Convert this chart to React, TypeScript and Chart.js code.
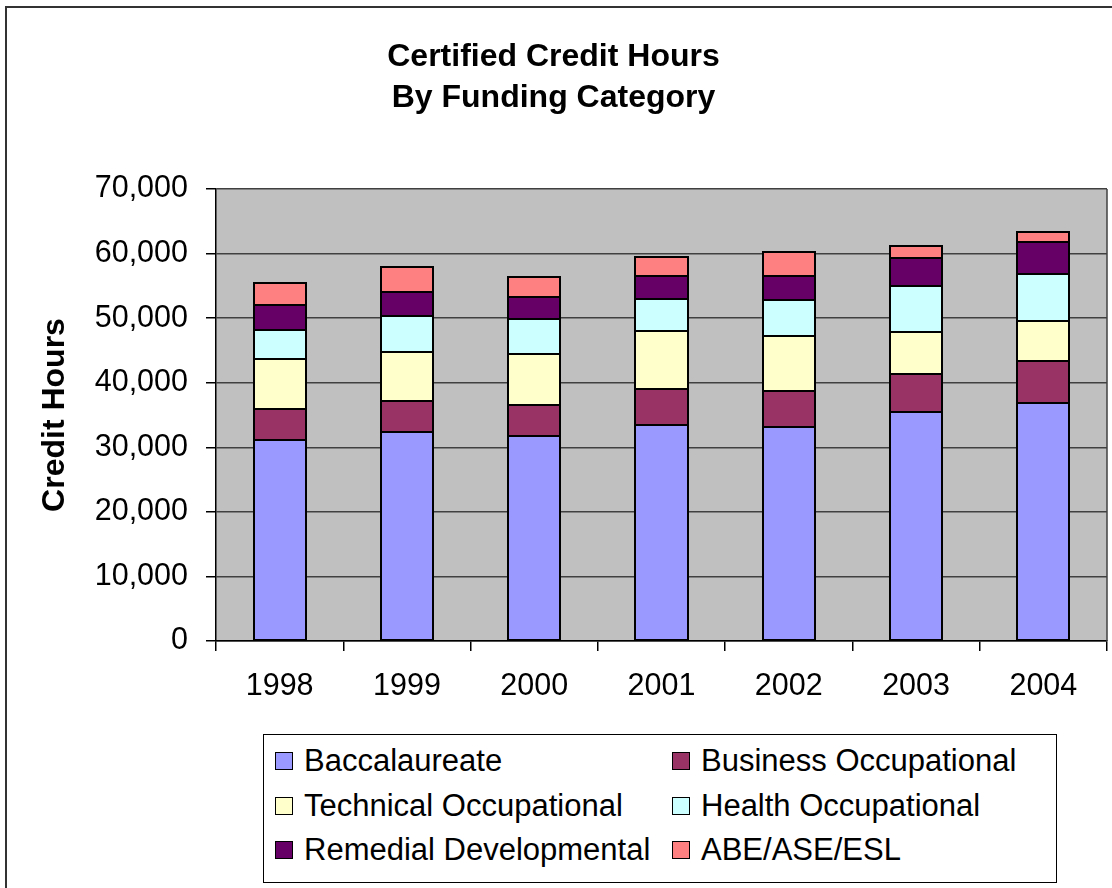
import React, { useEffect, useRef } from "react";
import { Chart, registerables } from "chart.js";

Chart.register(...registerables);

const years = ["1998", "1999", "2000", "2001", "2002", "2003", "2004"];
const baccalaureate = [31200, 32400, 31800, 33400, 33100, 35500, 36800];
const businessOccupational = [4700, 4700, 4700, 5600, 5600, 5900, 6500];
const technicalOccupational = [7700, 7700, 8000, 9000, 8600, 6500, 6200];
const healthOccupational = [4600, 5600, 5300, 4900, 5500, 7100, 7400];
const remedialDevelopmental = [3800, 3700, 3400, 3700, 3800, 4300, 4900];
const abeAseEsl = [3400, 3800, 3100, 2800, 3700, 1900, 1500];

const seriesNames = [
  "Baccalaureate",
  "Business Occupational",
  "Technical Occupational",
  "Health Occupational",
  "Remedial Developmental",
  "ABE/ASE/ESL",
];
const seriesValues = [
  baccalaureate,
  businessOccupational,
  technicalOccupational,
  healthOccupational,
  remedialDevelopmental,
  abeAseEsl,
];
const seriesColors = ["#9999FF", "#993366", "#FFFFCC", "#CCFFFF", "#660066", "#FF8080"];
const yTickValues = [0, 10000, 20000, 30000, 40000, 50000, 60000, 70000];
const titleLines = ["Certified Credit Hours", "By Funding Category"];
const yAxisTitle = "Credit Hours";

const FONT = '"Liberation Sans", Arial, Helvetica, sans-serif';

const plotBackground = {
  id: "plotBackground",
  beforeDraw(chart: any) {
    const { ctx, chartArea } = chart;
    if (!chartArea) return;
    ctx.save();
    ctx.fillStyle = "#C0C0C0";
    ctx.fillRect(chartArea.left, chartArea.top, chartArea.right - chartArea.left, chartArea.bottom - chartArea.top);
    ctx.restore();
  },
  beforeDatasetsDraw(chart: any) {
    const { ctx, chartArea } = chart;
    ctx.save();
    ctx.strokeStyle = "#404040";
    ctx.lineWidth = 1.5;
    ctx.beginPath();
    ctx.moveTo(chartArea.right, chartArea.top);
    ctx.lineTo(chartArea.right, chartArea.bottom);
    ctx.stroke();
    ctx.restore();
  },
  afterDatasetsDraw(chart: any) {
    const { ctx } = chart;
    ctx.save();
    ctx.strokeStyle = "#000000";
    ctx.lineWidth = 2;
    chart.data.datasets.forEach((_: any, di: number) => {
      const meta = chart.getDatasetMeta(di);
      meta.data.forEach((bar: any) => {
        const { x, y, base, width } = bar.getProps(["x", "y", "base", "width"], true);
        const left = Math.round(x - width / 2);
        const right = Math.round(x + width / 2);
        const top = Math.round(Math.min(y, base));
        const bottom = Math.round(Math.max(y, base));
        ctx.strokeRect(left, top, right - left, bottom - top);
      });
    });
    ctx.restore();
  },
};

const legendCols = [
  { swatch: 275 },
  { swatch: 672 },
];
const legendRows = [761, 806, 850];

export default function App() {
  const canvasRef = useRef<HTMLCanvasElement | null>(null);

  useEffect(() => {
    if (!canvasRef.current) return;
    Chart.defaults.font.family = FONT;
    const chart = new Chart(canvasRef.current, {
      type: "bar",
      data: {
        labels: years,
        datasets: seriesNames.map((name, i) => ({
          label: name,
          data: seriesValues[i],
          backgroundColor: seriesColors[i],
          borderColor: "#000000",
          borderWidth: 0,
          borderSkipped: false,
          barPercentage: 0.41,
          categoryPercentage: 1,
        })),
      },
      options: {
        responsive: false,
        animation: false,
        devicePixelRatio: 1,
        layout: { padding: { top: 0, left: 0, right: 5, bottom: 157 } },
        plugins: {
          legend: { display: false },
          tooltip: { enabled: false },
          title: {
            display: true,
            text: titleLines,
            color: "#000000",
            font: { family: FONT, size: 32, weight: "bold", lineHeight: 1.28125 },
            padding: { top: 36.5, bottom: 70.5 },
          },
        },
        scales: {
          x: {
            stacked: true,
            grid: {
              offset: true,
              drawOnChartArea: false,
              tickLength: 10,
              color: "#000000",
              lineWidth: 1.5,
            },
            border: { color: "#000000", width: 1.5 },
            ticks: {
              color: "#000000",
              font: { family: FONT, size: 30.5 },
              padding: 17,
              maxRotation: 0,
            },
            afterFit: (s: any) => {
              s.height = 90;
            },
          },
          y: {
            stacked: true,
            min: 0,
            max: 70000,
            afterBuildTicks: (s: any) => {
              s.ticks = yTickValues.map((v) => ({ value: v }));
            },
            ticks: {
              color: "#000000",
              font: { family: FONT, size: 30.5 },
              padding: 18,
              callback: (v: any) => Number(v).toLocaleString("en-US"),
            },
            grid: {
              color: "#404040",
              lineWidth: 1.5,
              tickColor: "#000000",
              tickLength: 10,
            },
            border: { color: "#000000", width: 1.5 },
            title: {
              display: true,
              text: yAxisTitle,
              color: "#000000",
              font: { family: FONT, size: 32, weight: "bold" },
              padding: { top: 36, bottom: 0 },
            },
            afterFit: (s: any) => {
              s.width = 216;
            },
          },
        },
      },
      plugins: [plotBackground],
    });
    return () => chart.destroy();
  }, []);

  return (
    <div
      style={{
        position: "absolute",
        left: 0,
        top: 0,
        width: 1112,
        height: 888,
        overflow: "hidden",
        background: "#ffffff",
        fontFamily: FONT,
      }}
    >
      <div
        style={{
          position: "absolute",
          left: 5,
          top: 6,
          width: 1200,
          height: 1000,
          border: "2px solid #333333",
          boxSizing: "border-box",
        }}
      />
      <canvas
        ref={canvasRef}
        width={1112}
        height={888}
        style={{ position: "absolute", left: 0, top: 0, display: "block", width: 1112, height: 888 }}
      />
      <div
        style={{
          position: "absolute",
          left: 263,
          top: 734,
          width: 794,
          height: 149,
          border: "1.5px solid #000000",
          boxSizing: "border-box",
          background: "#ffffff",
        }}
      />
      {seriesNames.map((name, i) => {
        const col = legendCols[i % 2];
        const row = legendRows[Math.floor(i / 2)];
        return (
          <div
            key={name}
            style={{
              position: "absolute",
              left: col.swatch,
              top: row - 22,
              height: 44,
              display: "flex",
              alignItems: "center",
              whiteSpace: "nowrap",
            }}
          >
            <div
              style={{
                width: 18,
                height: 18,
                background: seriesColors[i],
                border: "1.5px solid #000000",
                boxSizing: "border-box",
                marginRight: 11,
              }}
            />
            <span style={{ fontSize: 31, lineHeight: "44px", color: "#000000" }}>{name}</span>
          </div>
        );
      })}
    </div>
  );
}
